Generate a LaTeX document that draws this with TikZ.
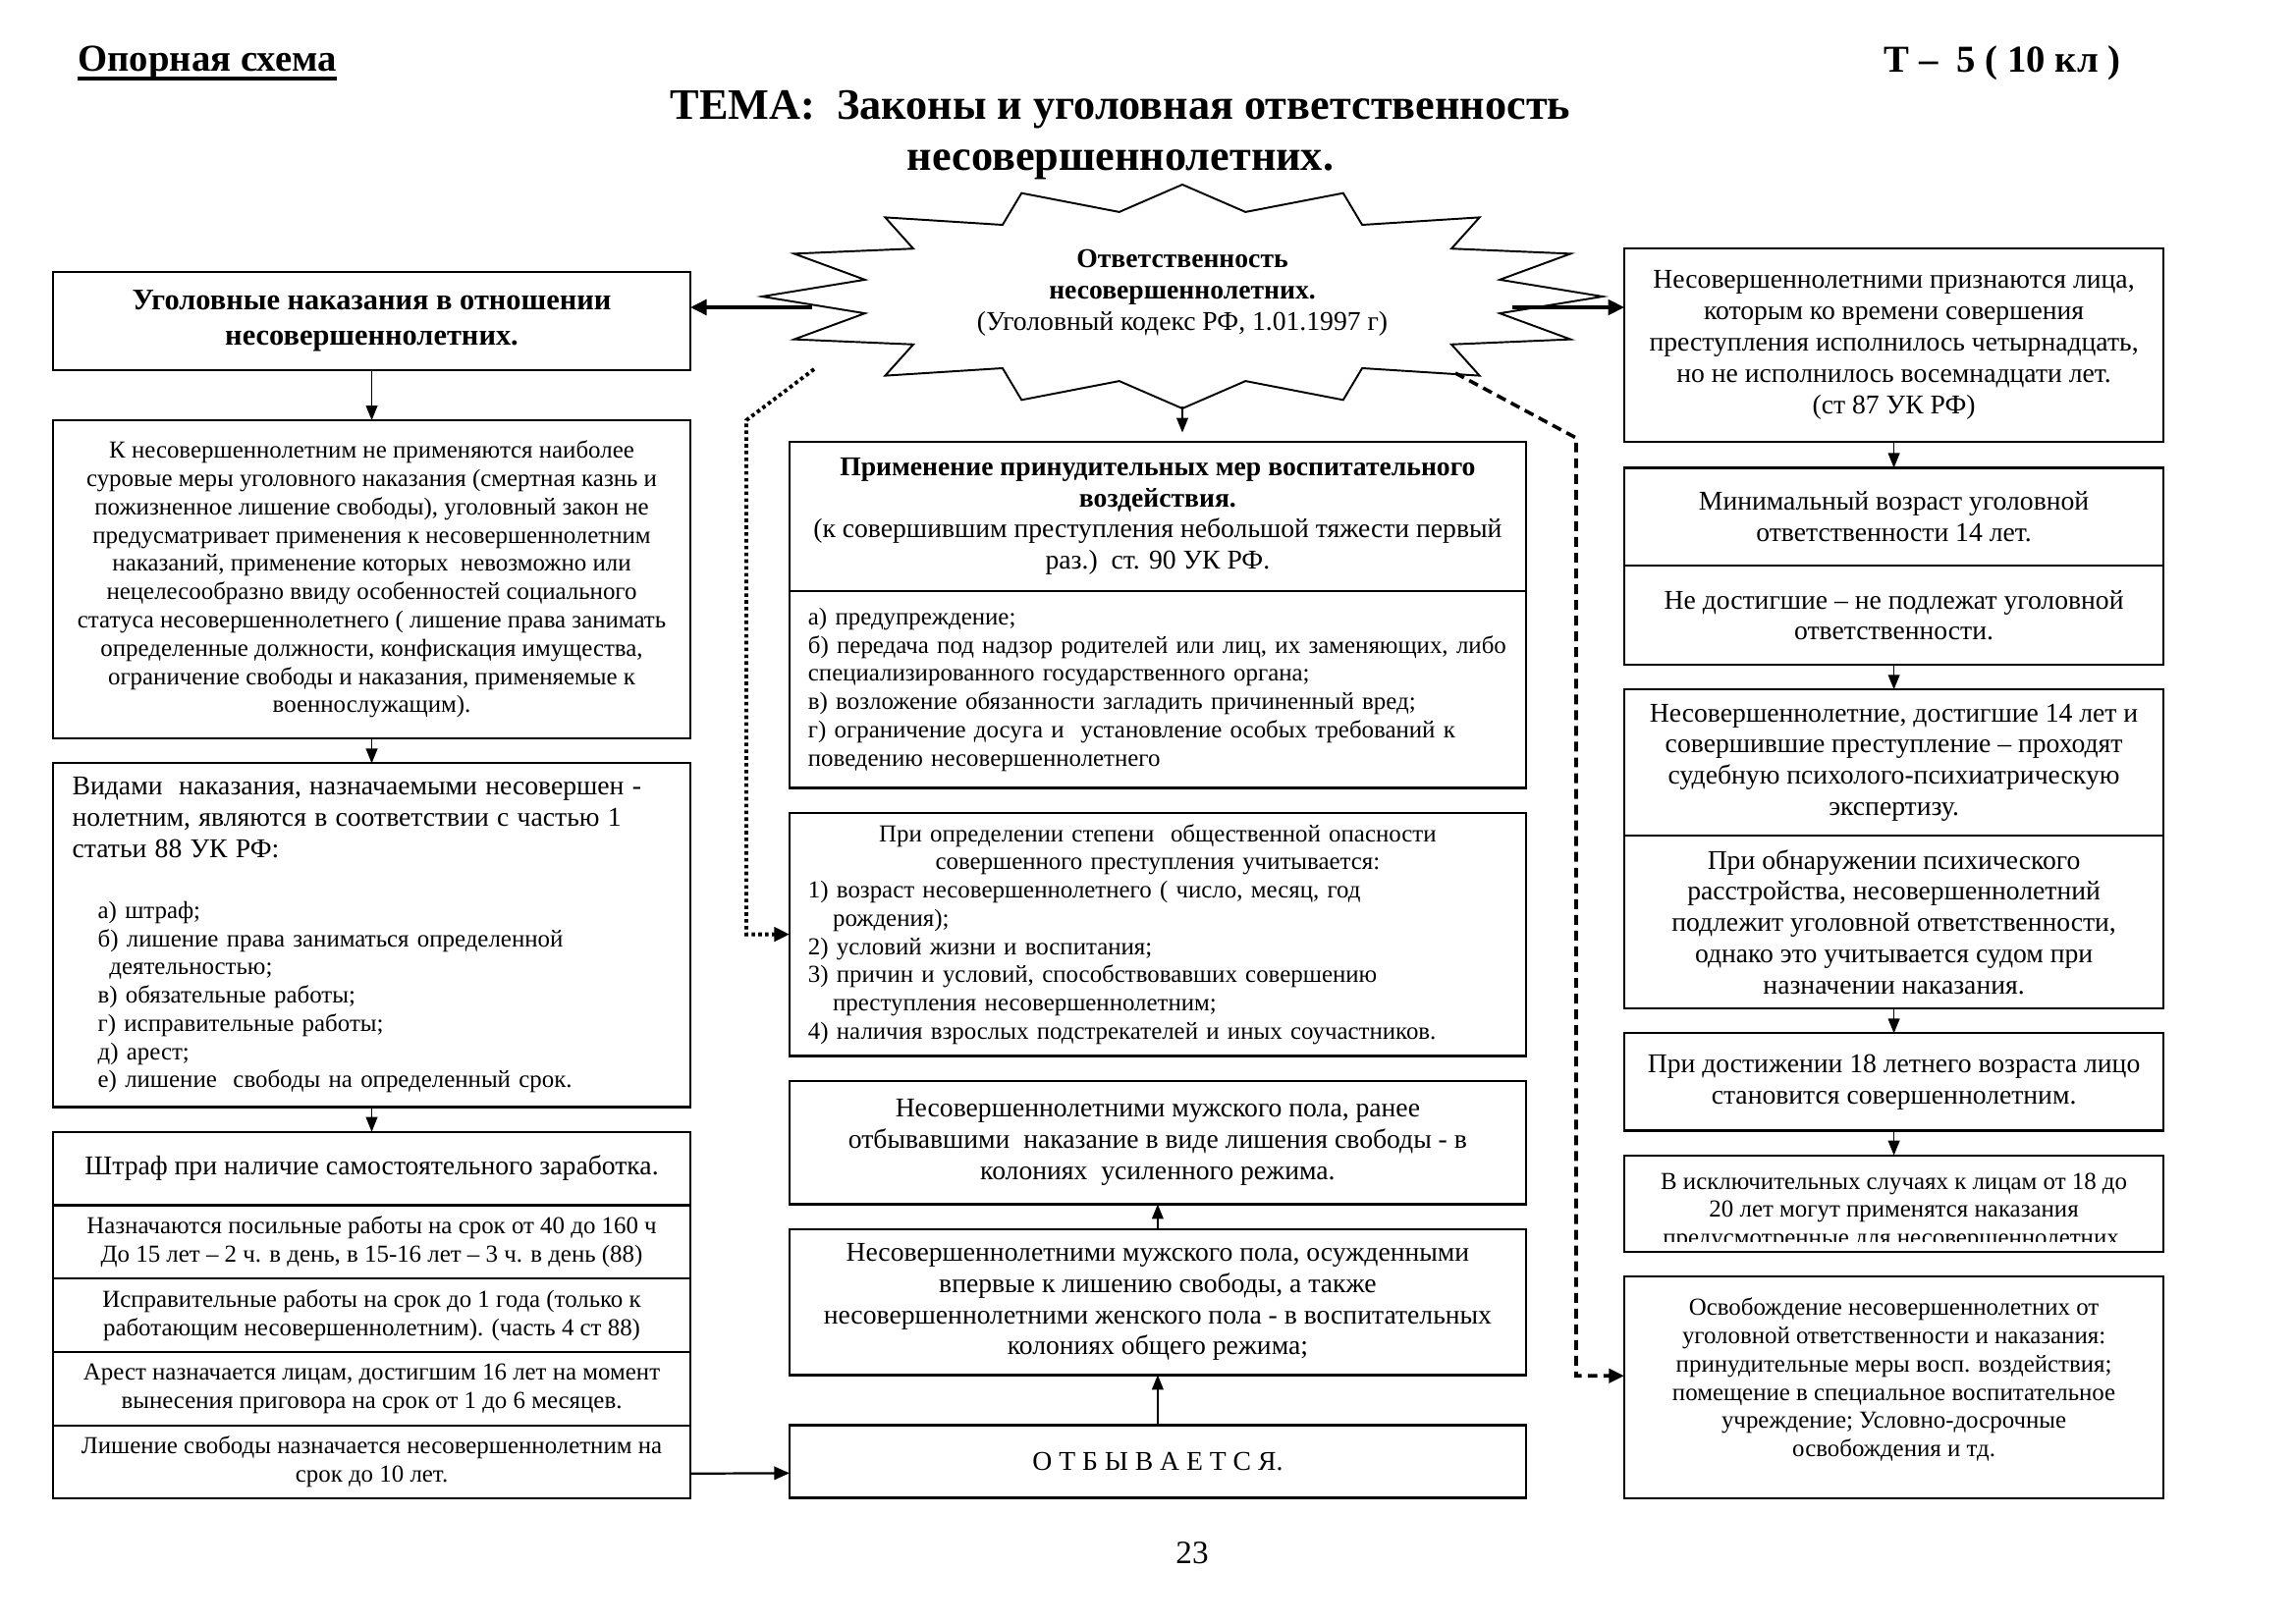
\documentclass[tikz,border=0pt]{standalone}
\usepackage{fontspec}
\setmainfont{Liberation Serif}
\usepackage{tikz}
\usetikzlibrary{arrows.meta}
\usetikzlibrary{positioning}

\newcommand{\nrm}{\fontsize{10}{11.5}\selectfont}
\newcommand{\sml}{\fontsize{9}{10.4}\selectfont}

\begin{document}
\begin{tikzpicture}[x=0.1271mm, y=-0.1271mm, node distance=3.2mm]
  \tikzstyle{box}=[draw, line width=0.8pt, rectangle, outer sep=0pt, inner sep=1mm, align=center, font=\nrm]
  \tikzstyle{lcol}=[box, minimum width=82.5mm]
  \tikzstyle{ccol}=[box, minimum width=95.3mm]
  \tikzstyle{rcol}=[box, minimum width=69.8mm]
  \tikzstyle{arr}=[line width=0.5pt, -{Triangle[length=1.9mm,width=1.5mm]}]
  \tikzstyle{medarr}=[line width=0.8pt, -{Triangle[length=2mm,width=1.7mm]}]
  \tikzstyle{thickarr}=[line width=1.2pt, -{Triangle[length=2.1mm,width=2mm]}]
  \tikzstyle{dotline}=[line width=1.4pt, dash pattern=on 1.3pt off 1.2pt, -{Triangle[length=2mm,width=1.8mm]}]
  \tikzstyle{dashline}=[line width=1.3pt, dash pattern=on 3.6pt off 2.2pt, -{Triangle[length=2mm,width=1.8mm]}]
  \useasboundingbox (0,0) rectangle (2336,1653);

  % heading
  \node[font=\fontsize{14}{16}\bfseries\selectfont, anchor=west, inner xsep=0pt] (opor) at (79,64) {Опорная схема};
  \draw[line width=1.3pt] ([yshift=-2.6pt]opor.base west) -- ([yshift=-2.6pt]opor.base east);
  \node[font=\fontsize{14}{16}\bfseries\selectfont, anchor=east, inner xsep=0pt] (tnum) at (2160,64) {Т –\ \ 5 ( 10 кл )};
  \node[font=\fontsize{16}{18.8}\bfseries\selectfont, align=center] (tema) at (1141,138)
    {ТЕМА:\ \ Законы и уголовная ответственность\\несовершеннолетних.};

  % the star
  \draw[line width=0.7pt, fill=white] plot[samples at={0,...,31}, variable=\t]
    ({1204+428*(1-0.23*mod(\t,2))*cos(90+11.25*\t)}, {302-114*(1-0.23*mod(\t,2))*sin(90+11.25*\t)}) -- cycle;
  \node[font=\nrm, align=center] (otv) at (1204,298)
    {\textbf{Ответственность}\\\textbf{несовершеннолетних.}\\(Уголовный кодекс РФ, 1.01.1997 г)};
  \coordinate (sL) at (827,313);
  \coordinate (sR) at (1540,313);
  \coordinate (sB) at (1204,414);
  \coordinate (sDL) at (829,376);
  \coordinate (sDR) at (1482,380);
  \coordinate (dotbend) at (760,428);
  \coordinate (dashbend) at (1605,446);

  % left column
  \node[lcol, minimum height=12.7mm, font=\fontsize{11}{12.9}\bfseries\selectfont, anchor=north west] (ugnak) at (54,277)
    {Уголовные наказания в отношении\\несовершеннолетних.};
  \node[lcol, minimum height=41.2mm, font=\sml, below=6.5mm of ugnak] (neprim)
    {К несовершеннолетним не применяются наиболее\\
     суровые меры уголовного наказания (смертная казнь и\\
     пожизненное лишение свободы), уголовный закон не\\
     предусматривает применения к несовершеннолетним\\
     наказаний, применение которых\ \ невозможно или\\
     нецелесообразно ввиду особенностей социального\\
     статуса несовершеннолетнего ( лишение права занимать\\
     определенные должности, конфискация имущества,\\
     ограничение свободы и наказания, применяемые к\\
     военнослужащим).};
  \node[lcol, minimum height=44.5mm, font=\sml, text width=77.5mm, inner xsep=2.5mm, align=left, below=of neprim] (vidy)
    {{\nrm Видами\ \ наказания, назначаемыми несовершен -\\
      нолетним, являются в соответствии с частью 1\\
      статьи 88 УК РФ:\par}
     \vspace{12pt}\leftskip=3.3mm
     а) штраф;\\
     б) лишение права заниматься определенной\\
     \hspace*{1.5mm}деятельностью;\\
     в) обязательные работы;\\
     г) исправительные работы;\\
     д) арест;\\
     е) лишение\ \ свободы на определенный срок.\par};
  \node[lcol, minimum height=9.5mm, below=of vidy] (shtraf) {Штраф при наличие самостоятельного заработка.};
  \node[lcol, minimum height=9.5mm, font=\sml, below=0mm of shtraf] (posil)
    {Назначаются посильные работы на срок от 40 до 160 ч\\До 15 лет – 2 ч. в день, в 15-16 лет – 3 ч. в день (88)};
  \node[lcol, minimum height=9.5mm, font=\sml, below=0mm of posil] (ispr)
    {Исправительные работы на срок до 1 года (только к\\работающим несовершеннолетним). (часть 4 ст 88)};
  \node[lcol, minimum height=9.5mm, font=\sml, below=0mm of ispr] (arest)
    {Арест назначается лицам, достигшим 16 лет на момент\\вынесения приговора на срок от 1 до 6 месяцев.};
  \node[lcol, minimum height=9.5mm, font=\sml, below=0mm of arest] (lish)
    {Лишение свободы назначается несовершеннолетним на\\срок до 10 лет.};

  % middle column
  \node[ccol, minimum height=19.3mm, anchor=north west] (prim) at (804,450)
    {\textbf{Применение принудительных мер воспитательного}\\\textbf{воздействия.}\\
     (к совершившим преступления небольшой тяжести первый\\раз.)\ \ ст. 90 УК РФ.};
  \node[ccol, minimum height=25.5mm, font=\sml, text width=90.5mm, inner xsep=2.4mm, align=left, below=0mm of prim] (mery)
    {а) предупреждение;\\
     б) передача под надзор родителей или лиц, их заменяющих, либо\\
     специализированного государственного органа;\\
     в) возложение обязанности загладить причиненный вред;\\
     г) ограничение досуга и\ \ установление особых требований к\\
     поведению несовершеннолетнего};
  \node[ccol, minimum height=31.5mm, font=\sml, text width=90.5mm, inner xsep=2.4mm, align=left, below=of mery] (uchet)
    {\makebox[\linewidth]{При определении степени\ \ общественной опасности}\\
     \makebox[\linewidth]{совершенного преступления учитывается:}\\
     1) возраст несовершеннолетнего ( число, месяц, год\\
     \hspace*{3.2mm}рождения);\\
     2) условий жизни и воспитания;\\
     3) причин и условий, способствовавших совершению\\
     \hspace*{3.2mm}преступления несовершеннолетним;\\
     4) наличия взрослых подстрекателей и иных соучастников.};
  \node[ccol, minimum height=16mm, below=of uchet] (usil)
    {Несовершеннолетними мужского пола, ранее\\
     отбывавшими\ \ наказание в виде лишения свободы - в\\
     колониях\ \ усиленного режима.};
  \node[ccol, minimum height=18.9mm, below=of usil] (obsh)
    {Несовершеннолетними мужского пола, осужденными\\
     впервые к лишению свободы, а также\\
     несовершеннолетними женского пола - в воспитательных\\
     колониях общего режима;};
  \node[ccol, minimum height=9.4mm, below=6.5mm of obsh] (otb) {О Т Б Ы В А Е Т С Я.};

  % right column
  \node[rcol, minimum height=25mm, anchor=north west] (priz) at (1654,253)
    {Несовершеннолетними признаются лица,\\
     которым ко времени совершения\\
     преступления исполнилось четырнадцать,\\
     но не исполнилось восемнадцати лет.\\
     (ст 87 УК РФ)};
  \node[rcol, minimum height=12.7mm, below=3.4mm of priz] (minv)
    {Минимальный возраст уголовной\\ответственности 14 лет.};
  \node[rcol, minimum height=12.8mm, below=0mm of minv] (nedost)
    {Не достигшие – не подлежат уголовной\\ответственности.};
  \node[rcol, minimum height=18.9mm, below=of nedost] (ekspert)
    {Несовершеннолетние, достигшие 14 лет и\\
     совершившие преступление – проходят\\
     судебную психолого-психиатрическую\\
     экспертизу.};
  \node[rcol, minimum height=22.4mm, below=0mm of ekspert] (rasstr)
    {При обнаружении психического\\
     расстройства, несовершеннолетний\\
     подлежит уголовной ответственности,\\
     однако это учитывается судом при\\
     назначении наказания.};
  \node[rcol, minimum height=12.6mm, below=of rasstr] (sovers)
    {При достижении 18 летнего возраста лицо\\становится совершеннолетним.};
  \node[rcol, minimum height=12.5mm, below=of sovers] (iskl) {};
  \begin{scope}
    \clip ([yshift=-0.4pt]iskl.north west) rectangle ([yshift=1.3mm]iskl.south east);
    \node[font=\sml, align=center, anchor=north, inner sep=0pt] (isklt) at ([yshift=-2.2mm]iskl.north)
      {В исключительных случаях к лицам от 18 до\\
       20 лет могут применятся наказания\\
       предусмотренные для несовершеннолетних.};
  \end{scope}
  \node[rcol, minimum height=28.7mm, font=\sml, below=of iskl] (osvob)
    {Освобождение несовершеннолетних от\\
     уголовной ответственности и наказания:\\
     принудительные меры восп. воздействия;\\
     помещение в специальное воспитательное\\
     учреждение; Условно-досрочные\\
     освобождения и тд.\\[-3pt]};

  \node[font=\fontsize{12}{14}\selectfont] (page) at (1214,1582) {23};

  % connectors
  \draw[thickarr] (sL) -- (sL -| ugnak.east);
  \draw[thickarr] (sR) -- (sR -| priz.west);
  \draw[arr, shorten >=1.2mm] (sB) -- (sB |- prim.north);
  \draw[dotline] (sDL) -- (dotbend) |- (uchet.west);
  \draw[dashline] (sDR) -- (dashbend) |- ([yshift=1.5mm]osvob.west);
  \draw[arr] (ugnak) -- (neprim);
  \draw[arr] (neprim) -- (vidy);
  \draw[arr] (vidy) -- (shtraf);
  \draw[medarr] ([yshift=-1.5mm]lish.east) -- ([yshift=-1.5mm]otb.west);
  \draw[arr] (otb) -- (obsh);
  \draw[arr] (obsh) -- (usil);
  \draw[arr] (priz) -- (minv);
  \draw[arr] (nedost) -- (ekspert);
  \draw[arr] (rasstr) -- (sovers);
  \draw[arr] (sovers) -- (iskl);
\end{tikzpicture}
\end{document}
